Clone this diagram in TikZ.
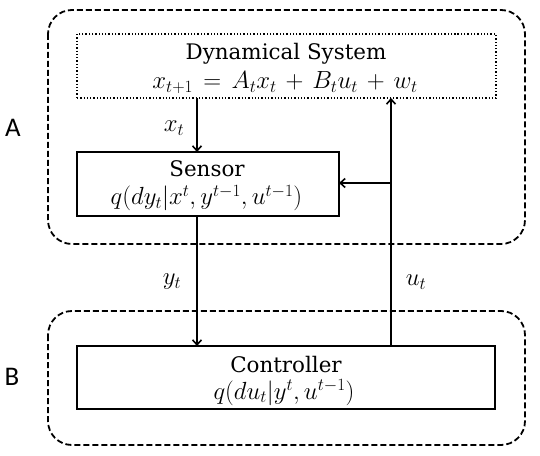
\documentclass[tikz,border=0pt]{standalone}
\usepackage{fontspec}
\newfontfamily\labfont{Carlito}
\newfontfamily\txtfont{DejaVu Serif}
\usetikzlibrary{arrows.meta}
\newcommand{\mysz}{\fontsize{21.5}{25}\selectfont}
\newcommand{\mthsz}{\fontsize{24}{25}\selectfont\medmuskip=6.5mu plus 2mu minus 4mu\thickmuskip=7.5mu plus 2mu}
\begin{document}
\begin{tikzpicture}[x=1bp,y=-1bp,
  every node/.style={inner sep=0pt,outer sep=0pt},
  tip/.style={-{Straight Barb[length=5bp,width=9bp,line width=1.6bp]}},
  conn/.style={line width=1.6bp,tip},
  blk/.style={draw,line width=2bp},
  dynblk/.style={draw,line width=1.3bp,dotted},
  ttl/.style={anchor=base,font=\txtfont\mysz},
  frm/.style={anchor=base,font=\mthsz},
  grp/.style={draw,line width=1.8bp,rounded corners=24bp,dash pattern=on 6bp off 3bp},
  lab/.style={font=\mthsz},
  sidelab/.style={font=\labfont\fontsize{27}{30}\selectfont}]
\useasboundingbox (0,0) rectangle (540,456);
\draw[grp] (48,10) rectangle (525,244);
\draw[grp] (48,311) rectangle (525,445);
\node[dynblk,minimum width=419bp,minimum height=64bp] (dyn) at (286.5,66) {};
\node[ttl] (dynT) at (286,60) {Dynamical System};
\node[frm] (dynF) at (285,89) {$x_{t+1}=A_tx_t+B_tu_t+w_t$};
\node[blk,minimum width=262bp,minimum height=64bp] (sen) at (208,184) {};
\node[ttl] (senT) at (207,177) {Sensor};
\node[frm] (senF) at (206.5,205) {$q(dy_t|x^t,y^{t-1},u^{t-1})$};
\node[blk,minimum width=418bp,minimum height=63bp] (ctl) at (286,377.5) {};
\node[ttl] (ctlT) at (286,372) {Controller};
\node[frm] (ctlF) at (284,399) {$q(du_t|y^t,u^{t-1})$};
\coordinate (cx) at (197,0);
\coordinate (ux) at (391,0);
\coordinate (br) at (391,183);
\draw[conn] (dyn.south -| cx) -- (sen.north -| cx);
\draw[conn] (sen.south -| cx) -- (ctl.north -| cx);
\draw[conn] (ctl.north -| ux) -- (dyn.south -| ux);
\draw[conn] (br) -- (sen.east |- br);
\node[lab] (lx) at (174,128) {$x_t$};
\node[lab] (ly) at (172,282) {$y_t$};
\node[lab] (lu) at (416,282) {$u_t$};
\node[sidelab] (la) at (13,128) {A};
\node[sidelab] (lb) at (12,377) {B};
\end{tikzpicture}
\end{document}
